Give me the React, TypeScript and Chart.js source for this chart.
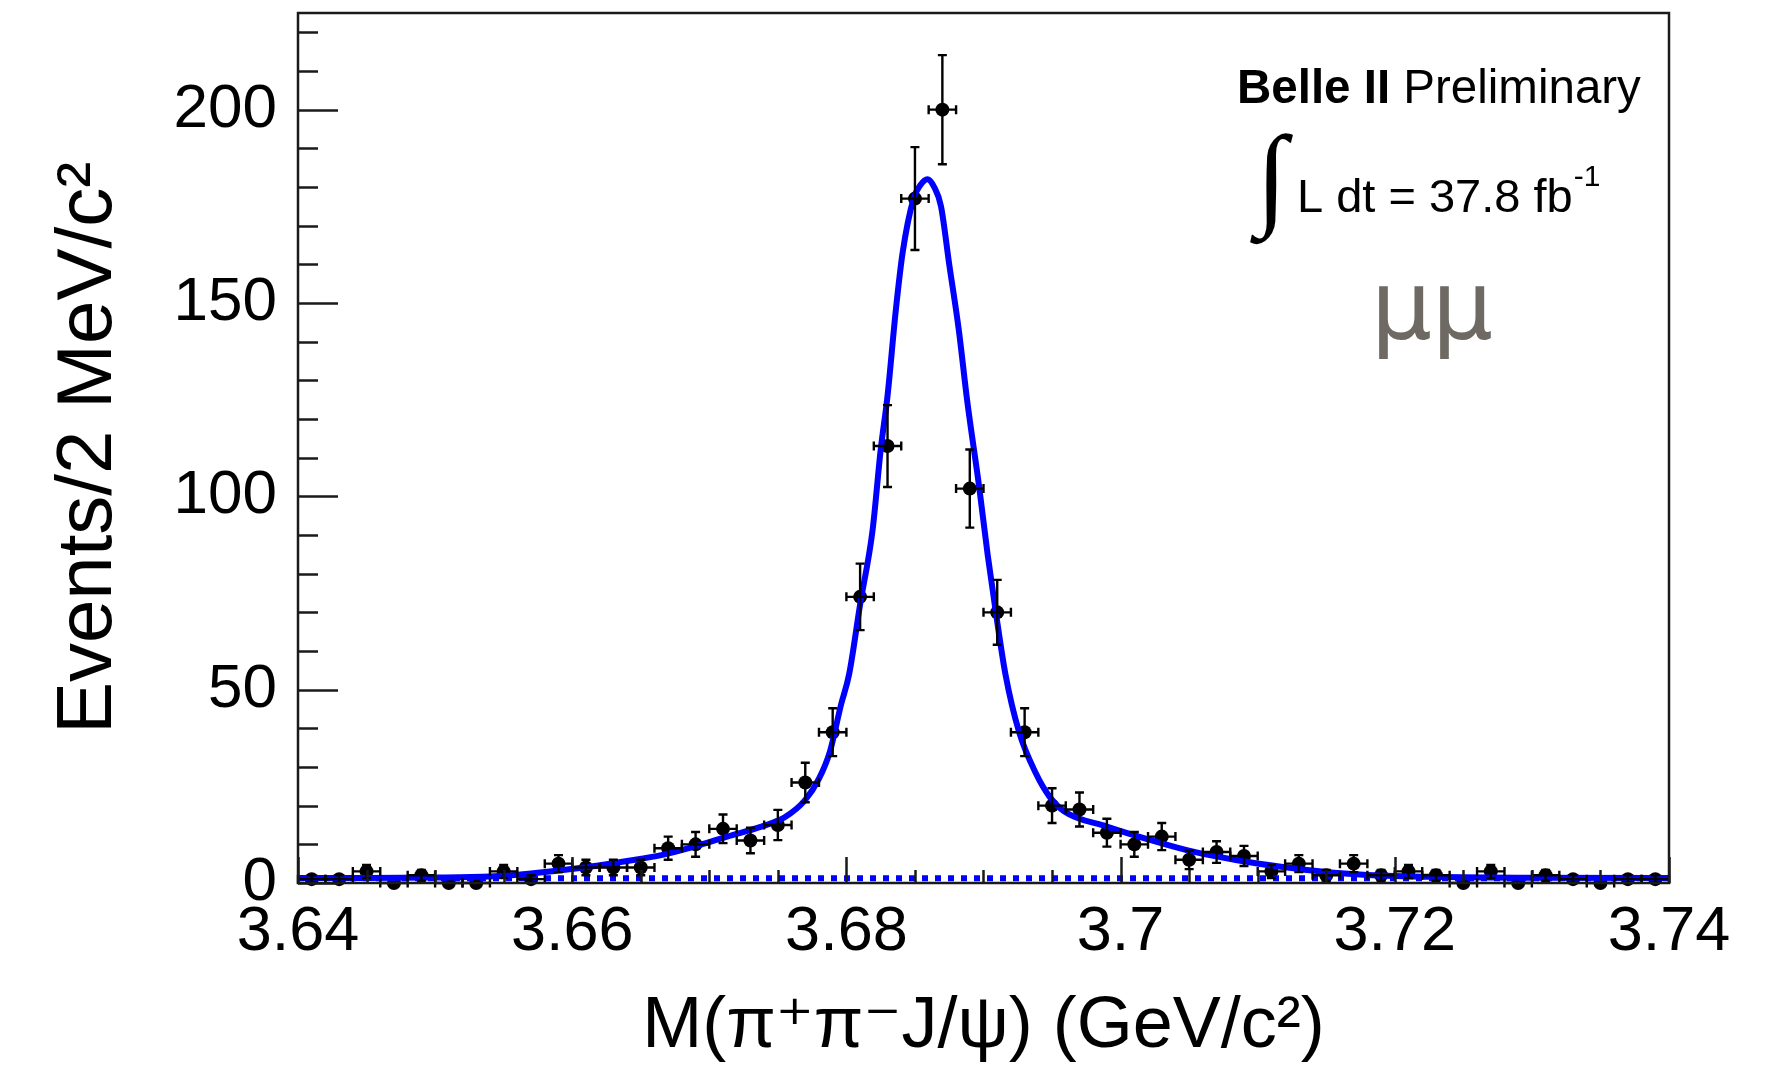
import React, { useEffect, useRef } from 'react';
import { Chart, registerables } from 'chart.js';

Chart.register(...registerables);

// ---------------- data ----------------
const binCenters = [
  3.641, 3.643, 3.645, 3.647, 3.649, 3.651, 3.653, 3.655, 3.657, 3.659,
  3.661, 3.663, 3.665, 3.667, 3.669, 3.671, 3.673, 3.675, 3.677, 3.679,
  3.681, 3.683, 3.685, 3.687, 3.689, 3.691, 3.693, 3.695, 3.697, 3.699,
  3.701, 3.703, 3.705, 3.707, 3.709, 3.711, 3.713, 3.715, 3.717, 3.719,
  3.721, 3.723, 3.725, 3.727, 3.729, 3.731, 3.733, 3.735, 3.737, 3.739,
];
const binHalfWidth = 0.001;

const counts = [
  1, 1, 3, 0, 2, 0, 0, 3, 1, 5,
  4, 4, 4, 9, 10, 14, 11, 15, 26, 39,
  74, 113, 177, 200, 102, 70, 39, 20, 19, 13,
  10, 12, 6, 8, 7, 3, 5, 2, 5, 2,
  3, 2, 0, 3, 0, 2, 1, 0, 1, 1,
];

const countErrors = [
  1, 1, 1.7, 0, 1.4, 0, 0, 1.7, 1, 2.2,
  2, 2, 2, 3, 3.2, 3.7, 3.3, 3.9, 5.1, 6.2,
  8.6, 10.6, 13.3, 14.1, 10.1, 8.4, 6.2, 4.5, 4.4, 3.6,
  3.2, 3.5, 2.4, 2.8, 2.6, 1.7, 2.2, 1.4, 2.2, 1.4,
  1.7, 1.4, 0, 1.7, 0, 1.4, 1, 0, 1, 1,
];

const fitX = [
  3.64, 3.645, 3.65, 3.654, 3.6568, 3.6604, 3.664, 3.6665, 3.6689, 3.6713,
  3.6738, 3.6755, 3.677, 3.678, 3.6788, 3.6796, 3.6802, 3.681, 3.6819, 3.6825,
  3.683, 3.6836, 3.6841, 3.6849, 3.6854, 3.6859, 3.6864, 3.6869, 3.6875, 3.6882,
  3.6888, 3.6897, 3.6903, 3.6909, 3.6916, 3.6926, 3.6938, 3.6948, 3.6959, 3.699,
  3.7022, 3.7053, 3.7085, 3.7117, 3.7148, 3.718, 3.7227, 3.73, 3.74,
];
const fitY = [
  1.3, 1.3, 1.4, 1.7, 2.4, 3.8, 5.7, 7.2, 9.4, 12.0,
  14.6, 17.0, 21.5, 27, 34, 46, 54, 72, 91, 112,
  126, 148, 163, 177, 180.5, 182, 180, 175, 160, 143,
  125, 102, 85, 70, 54, 39, 28.5, 22.4, 18.5, 14.6,
  11.1, 8.1, 5.9, 4.2, 2.9, 2.1, 1.6, 1.35, 1.3,
];

const bkgX = [3.64, 3.74];
const bkgY = [1.2, 1.2];

const xMin = 3.64;
const xMax = 3.74;
const yMin = 0;
const yMax = 225;

const xTickValues = [3.64, 3.66, 3.68, 3.7, 3.72, 3.74];
const xTickLabels = ['3.64', '3.66', '3.68', '3.7', '3.72', '3.74'];
const yTickValues = [0, 50, 100, 150, 200];
const yTickLabels = ['0', '50', '100', '150', '200'];
const xMinorStep = 0.005;
const yMinorStep = 10;

const xTitle = 'M(\u03C0\u207A\u03C0\u207BJ/\u03C8) (GeV/c\u00B2)';
const yTitle = 'Events/2 MeV/c\u00B2';
const labelBelle = 'Belle II';
const labelPrelim = ' Preliminary';
const labelLumi = 'L dt = 37.8 fb';
const labelLumiExp = '-1';
const labelChannel = '\u03BC\u03BC';

const SANS = "'Liberation Sans', Arial, 'DejaVu Sans', sans-serif";
const SERIF = "'Liberation Serif', 'DejaVu Serif', serif";

// ---------------- plugins ----------------
const errorBarsPlugin = {
  id: 'errorBars',
  afterDatasetsDraw(chart: any) {
    const { ctx } = chart;
    const xs = chart.scales.x;
    const ys = chart.scales.y;
    ctx.save();
    ctx.strokeStyle = '#000';
    ctx.lineWidth = 2.4;
    for (let i = 0; i < binCenters.length; i++) {
      const px = xs.getPixelForValue(binCenters[i]);
      const py = ys.getPixelForValue(counts[i]);
      const xl = xs.getPixelForValue(binCenters[i] - binHalfWidth);
      const xr = xs.getPixelForValue(binCenters[i] + binHalfWidth);
      ctx.beginPath();
      ctx.moveTo(xl, py);
      ctx.lineTo(xr, py);
      ctx.moveTo(xl, py - 4.5);
      ctx.lineTo(xl, py + 4.5);
      ctx.moveTo(xr, py - 4.5);
      ctx.lineTo(xr, py + 4.5);
      const e = countErrors[i];
      if (e > 0) {
        const yt = ys.getPixelForValue(counts[i] + e);
        const yb = ys.getPixelForValue(Math.max(counts[i] - e, 0));
        ctx.moveTo(px, yt);
        ctx.lineTo(px, yb);
        ctx.moveTo(px - 4.5, yt);
        ctx.lineTo(px + 4.5, yt);
        ctx.moveTo(px - 4.5, yb);
        ctx.lineTo(px + 4.5, yb);
      }
      ctx.stroke();
    }
    ctx.restore();
  },
};

const framePlugin = {
  id: 'rootFrame',
  afterDraw(chart: any) {
    const { ctx, chartArea } = chart;
    const { left, right, top, bottom } = chartArea;
    const xs = chart.scales.x;
    const ys = chart.scales.y;
    ctx.save();
    ctx.strokeStyle = '#1a1a1a';
    ctx.lineWidth = 2.5;
    ctx.strokeRect(left, top, right - left, bottom - top);
    ctx.beginPath();
    for (let v = yMin; v <= yMax + 1e-9; v += yMinorStep) {
      const py = Math.round(ys.getPixelForValue(v)) + 0.5;
      const major = yTickValues.some((t) => Math.abs(t - v) < 1e-6);
      const len = major ? 40 : 20;
      ctx.moveTo(left, py);
      ctx.lineTo(left + len, py);
    }
    const n = Math.round((xMax - xMin) / xMinorStep);
    for (let k = 0; k <= n; k++) {
      const v = xMin + k * xMinorStep;
      const px = Math.round(xs.getPixelForValue(v)) + 0.5;
      const major = xTickValues.some((t) => Math.abs(t - v) < 1e-6);
      const len = major ? 26 : 13;
      ctx.moveTo(px, bottom);
      ctx.lineTo(px, bottom - len);
    }
    ctx.stroke();
    ctx.restore();
  },
};

const textPlugin = {
  id: 'labels',
  afterDraw(chart: any) {
    const { ctx } = chart;
    ctx.save();
    ctx.fillStyle = '#000';
    ctx.textAlign = 'left';
    ctx.textBaseline = 'alphabetic';
    ctx.font = `bold 47.5px ${SANS}`;
    ctx.fillText(labelBelle, 1237, 103);
    const wB = ctx.measureText(labelBelle).width;
    ctx.font = `47.5px ${SANS}`;
    ctx.fillText(labelPrelim, 1237 + wB, 103);

    ctx.font = `100px ${SERIF}`;
    let m = ctx.measureText('\u222B');
    let h = m.actualBoundingBoxAscent + m.actualBoundingBoxDescent;
    const size = (100 * 112) / (h || 100);
    ctx.font = `${size}px ${SERIF}`;
    m = ctx.measureText('\u222B');
    ctx.fillText('\u222B', 1250 + m.actualBoundingBoxLeft, 133 + m.actualBoundingBoxAscent);

    ctx.font = `47px ${SANS}`;
    ctx.fillText(labelLumi, 1297, 212);
    const wL = ctx.measureText(labelLumi).width;
    ctx.font = `30px ${SANS}`;
    ctx.fillText(labelLumiExp, 1297 + wL + 1, 186);

    ctx.fillStyle = '#6e6962';
    ctx.font = `100px 'DejaVu Sans', sans-serif`;
    m = ctx.measureText(labelChannel);
    h = m.actualBoundingBoxAscent + m.actualBoundingBoxDescent;
    const s2 = (100 * 73) / (h || 100);
    ctx.font = `${s2}px 'DejaVu Sans', sans-serif`;
    m = ctx.measureText(labelChannel);
    ctx.fillText(labelChannel, 1379 + m.actualBoundingBoxLeft, 286 + m.actualBoundingBoxAscent);
    ctx.restore();
  },
};

export default function App() {
  const ref = useRef<HTMLCanvasElement | null>(null);

  useEffect(() => {
    const canvas = ref.current;
    if (!canvas) return;
    const chart = new Chart(canvas, {
      type: 'scatter',
      data: {
        datasets: [
          {
            label: 'Fit',
            type: 'line',
            data: fitX.map((x, i) => ({ x, y: fitY[i] })),
            borderColor: '#0000ff',
            borderWidth: 6,
            pointRadius: 0,
            showLine: true,
            fill: false,
            cubicInterpolationMode: 'monotone',
            order: 1,
          } as any,
          {
            label: 'Background',
            type: 'line',
            data: bkgX.map((x, i) => ({ x, y: bkgY[i] })),
            borderColor: '#0000ff',
            borderWidth: 6,
            borderDash: [6, 7],
            pointRadius: 0,
            showLine: true,
            fill: false,
            clip: false,
            order: 1,
          } as any,
          {
            label: 'Data',
            data: binCenters.map((x, i) => ({ x, y: counts[i] })),
            pointRadius: 7,
            pointBackgroundColor: '#000',
            pointBorderColor: '#000',
            pointBorderWidth: 0,
            showLine: false,
            clip: false,
            order: 2,
          } as any,
        ],
      },
      options: {
        responsive: false,
        animation: false,
        devicePixelRatio: 1,
        layout: { padding: { top: 13, right: 110, left: 0, bottom: 0 } },
        plugins: { legend: { display: false }, tooltip: { enabled: false } },
        scales: {
          x: {
            type: 'linear',
            min: xMin,
            max: xMax,
            grid: { display: false, drawTicks: false },
            border: { display: false },
            afterBuildTicks: (s: any) => {
              s.ticks = xTickValues.map((v) => ({ value: v }));
            },
            afterFit: (s: any) => {
              s.height = 192;
              s.paddingLeft = 0;
              s.paddingRight = 0;
            },
            ticks: {
              autoSkip: false,
              maxRotation: 0,
              minRotation: 0,
              padding: 12,
              color: '#000',
              font: { family: SANS, size: 63, lineHeight: 1.2 },
              callback: (_v: any, i: number) => xTickLabels[i],
            },
            title: {
              display: true,
              text: xTitle,
              color: '#000',
              font: { family: SANS, size: 72, lineHeight: 1 },
              padding: { top: 0, bottom: 12 },
            },
          },
          y: {
            type: 'linear',
            min: yMin,
            max: yMax,
            grid: { display: false, drawTicks: false },
            border: { display: false },
            afterBuildTicks: (s: any) => {
              s.ticks = yTickValues.map((v) => ({ value: v }));
            },
            afterFit: (s: any) => {
              s.width = 298;
              s.paddingTop = 0;
              s.paddingBottom = 0;
            },
            ticks: {
              autoSkip: false,
              padding: 21,
              color: '#000',
              font: { family: SANS, size: 62, lineHeight: 1.2 },
              callback: (_v: any, i: number) => yTickLabels[i],
            },
            title: {
              display: true,
              text: yTitle,
              color: '#000',
              font: { family: SANS, size: 78, lineHeight: 1 },
              padding: { top: 50, bottom: 0 },
            },
          },
        },
      } as any,
      plugins: [errorBarsPlugin, framePlugin, textPlugin],
    });
    return () => chart.destroy();
  }, []);

  return (
    <div style={{ position: 'fixed', left: 0, top: 0, width: 1779, height: 1075, background: '#fff' }}>
      <canvas ref={ref} width={1779} height={1075} style={{ display: 'block', width: 1779, height: 1075 }} />
    </div>
  );
}
